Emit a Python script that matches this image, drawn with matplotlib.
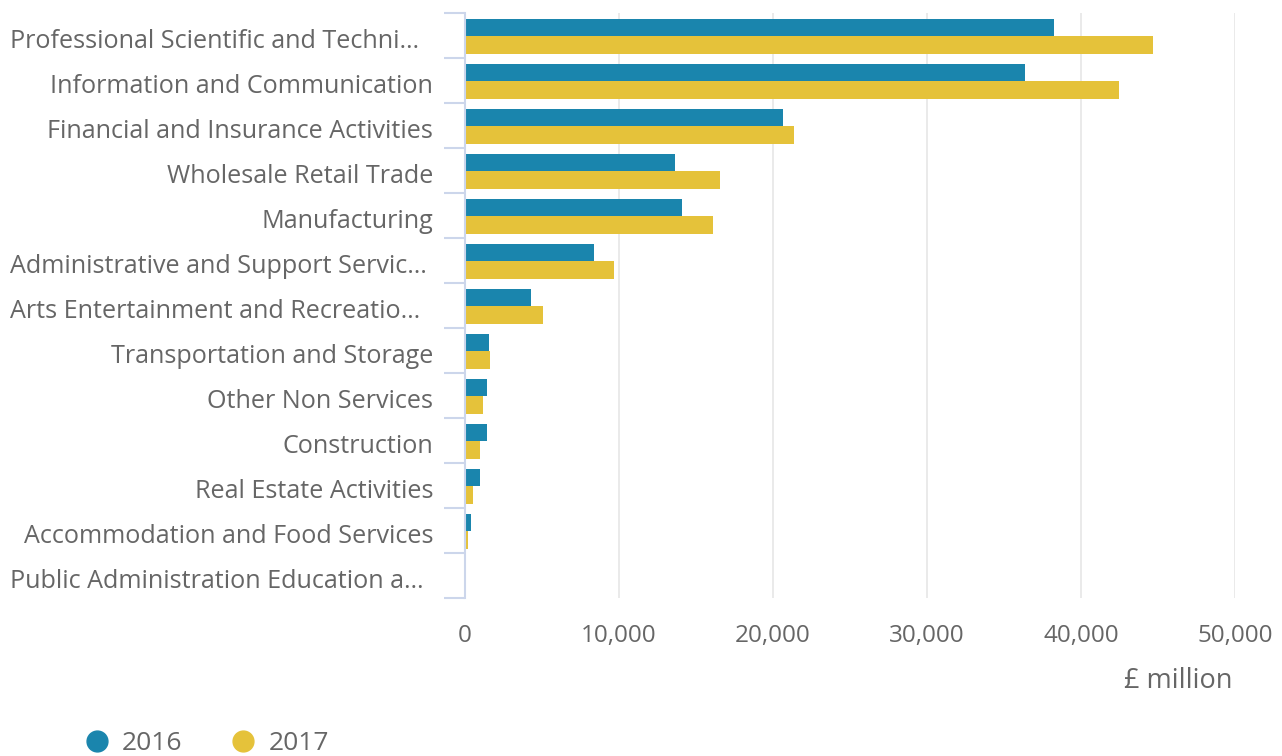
import matplotlib
matplotlib.use("Agg")
import matplotlib.pyplot as plt
import matplotlib.transforms as mtransforms
import numpy as np
from matplotlib.ticker import FuncFormatter
from matplotlib.lines import Line2D

plt.rcParams['font.family'] = ['Open Sans', 'DejaVu Sans']

categories = [
    "Professional Scientific and Techni…",
    "Information and Communication",
    "Financial and Insurance Activities",
    "Wholesale Retail Trade",
    "Manufacturing",
    "Administrative and Support Servic…",
    "Arts Entertainment and Recreatio…",
    "Transportation and Storage",
    "Other Non Services",
    "Construction",
    "Real Estate Activities",
    "Accommodation and Food Services",
    "Public Administration Education a…",
]
values_2016 = [38250, 36350, 20650, 13650, 14100, 8400, 4300, 1550, 1400, 1400, 950, 380, 40]
values_2017 = [44700, 42450, 21350, 16550, 16100, 9700, 5050, 1650, 1200, 950, 500, 200, 20]
series_names = ["2016", "2017"]
colors = ["#1a85ad", "#e5c23a"]
x_ticks = [0, 10000, 20000, 30000, 40000, 50000]

W, H = 1282, 756
fig = plt.figure(figsize=(W/100, H/100), dpi=100)
left, right, top, bottom = 465, 1235, 13, 598
ax = fig.add_axes([left/W, 1-bottom/H, (right-left)/W, (bottom-top)/H])

n = len(categories)
y = np.arange(n)
bh = 0.39
ax.barh(y - bh/2 + 0.02, values_2016, height=bh, color=colors[0], zorder=3)
ax.barh(y + bh/2 + 0.02, values_2017, height=bh, color=colors[1], zorder=3)

ax.set_ylim(n - 0.5, -0.5)
ax.set_xlim(0, 50000)
ax.set_xticks(x_ticks)
ax.xaxis.set_major_formatter(FuncFormatter(lambda v, p: f"{int(v):,}"))
ax.grid(axis='x', color='#e6e6e6', linewidth=1.2, zorder=0)

txt = '#666666'
ax.set_yticks(y)
ax.set_yticklabels(categories, fontsize=18.1, color=txt)
ax.set_yticks(np.arange(n + 1) - 0.5, minor=True)
pad_pt = 23
ax.tick_params(axis='y', which='major', length=0, pad=pad_pt)
ax.tick_params(axis='y', which='minor', length=15, width=1.5, color='#ccd6eb')
ax.tick_params(axis='x', length=0, labelsize=17.5, labelcolor=txt, pad=19)
label_right_px = left - pad_pt * 100 / 72
for lab in ax.get_yticklabels():
    if lab.get_text().endswith("…"):
        lab.set_ha('left')
        dx = -(label_right_px - 10) / 100
    else:
        dx = 0
    off = mtransforms.ScaledTranslation(dx, -3/100, fig.dpi_scale_trans)
    lab.set_transform(lab.get_transform() + off)

for s in ['top', 'right', 'bottom']:
    ax.spines[s].set_visible(False)
ax.spines['left'].set_color('#ccd6eb')
ax.spines['left'].set_linewidth(1.5)
ax.spines['left'].set_zorder(4)

fig.text(1233/W, 1-681/H, "£ million", ha='right', va='center', fontsize=19.5, color=txt)

handles = [Line2D([0], [0], marker='o', linestyle='none', markersize=15,
                  markerfacecolor=c, markeredgecolor=c) for c in colors]
fig.legend(handles, series_names, loc='center left', bbox_to_anchor=(60/W, 1-744/H),
           ncol=2, frameon=False, fontsize=19, labelcolor=txt, handletextpad=0.45,
           columnspacing=1.8, handlelength=1.0, borderpad=0.4)

fig.savefig("out.png", dpi=100)
